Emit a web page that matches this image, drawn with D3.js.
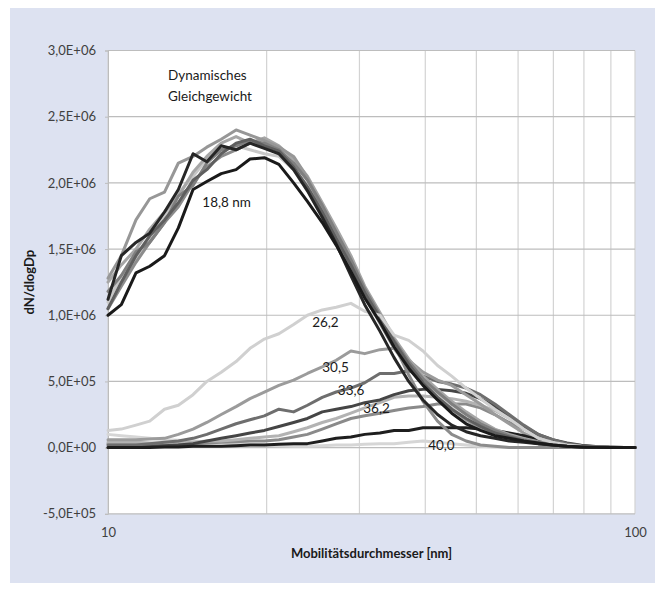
<!DOCTYPE html>
<html><head><meta charset="utf-8">
<script src="https://cdn.jsdelivr.net/npm/d3@7"></script>
<style>
body{margin:0;background:#fff;}
text{font-family:Lato,"Open Sans",sans-serif;}
</style>
</head><body>
<svg id="chart" width="660" height="597"></svg>
<script>
// ---- DATA ----
const diameters = [10.0, 10.6, 11.3, 12.0, 12.8, 13.6, 14.5, 15.4, 16.4, 17.5, 18.6, 19.8, 21.1, 22.5, 23.9, 25.5, 27.1, 28.9, 30.7, 32.8, 34.9, 37.2, 39.6, 42.2, 44.9, 47.8, 50.9, 54.2, 57.7, 61.5, 65.5, 69.8, 74.3, 79.1, 84.2, 89.8, 95.6, 100];
const UNIT = 1e6; // values below in millions (dN/dlogDp)

// "Dynamisches Gleichgewicht" group (18,8 nm)
const eqA = [1.28,1.45,1.72,1.88,1.93,2.15,2.20,2.27,2.33,2.40,2.36,2.32,2.27,2.20,2.04,1.80,1.60,1.38,1.15,0.94,0.75,0.60,0.48,0.38,0.29,0.21,0.15,0.10,0.07,0.05,0.03,0.02,0.01,0.005,0.002,0,0,0];
const eqB = [1.00,1.08,1.32,1.37,1.45,1.66,1.95,2.01,2.07,2.10,2.18,2.19,2.14,2.00,1.86,1.70,1.53,1.33,1.13,0.95,0.76,0.60,0.47,0.36,0.26,0.18,0.13,0.09,0.07,0.05,0.035,0.02,0.01,0.005,0.002,0,0,0];
const eqC = [1.12,1.45,1.55,1.62,1.78,1.95,2.22,2.16,2.28,2.25,2.30,2.26,2.22,2.10,1.94,1.74,1.54,1.30,1.08,0.88,0.68,0.50,0.36,0.25,0.17,0.12,0.09,0.07,0.05,0.04,0.03,0.02,0.01,0.005,0.002,0,0,0];
const eqD = [1.05,1.25,1.45,1.60,1.72,1.85,2.02,2.10,2.22,2.30,2.33,2.28,2.24,2.12,1.97,1.78,1.58,1.38,1.17,0.98,0.80,0.63,0.49,0.38,0.29,0.22,0.16,0.11,0.08,0.05,0.03,0.02,0.01,0.005,0,0,0,0];
const eqE = [1.18,1.30,1.48,1.55,1.70,1.90,1.98,2.15,2.25,2.28,2.32,2.30,2.25,2.15,2.02,1.83,1.63,1.42,1.20,1.00,0.81,0.65,0.52,0.42,0.33,0.25,0.18,0.13,0.09,0.06,0.04,0.025,0.015,0.008,0.003,0,0,0];
const eqF = [1.25,1.38,1.50,1.65,1.78,1.90,2.08,2.20,2.30,2.35,2.30,2.34,2.28,2.18,2.05,1.85,1.66,1.45,1.22,1.02,0.83,0.67,0.54,0.44,0.35,0.27,0.20,0.14,0.10,0.07,0.045,0.03,0.015,0.008,0.003,0,0,0];
const eqG = [1.10,1.30,1.42,1.58,1.75,1.92,2.05,2.18,2.25,2.28,2.25,2.22,2.20,2.10,1.98,1.78,1.58,1.38,1.15,0.95,0.78,0.62,0.50,0.40,0.30,0.22,0.15,0.10,0.07,0.05,0.03,0.02,0.01,0.005,0,0,0,0];
const eqH = [1.05,1.22,1.40,1.55,1.70,1.82,2.00,2.12,2.20,2.25,2.30,2.28,2.25,2.12,1.95,1.75,1.55,1.35,1.18,0.98,0.78,0.55,0.35,0.20,0.10,0.05,0.02,0.01,0,0,0,0,0,0,0,0,0,0];

// lower group
const d262 = [0.13,0.14,0.17,0.20,0.29,0.32,0.40,0.50,0.57,0.65,0.75,0.82,0.86,0.93,1.00,1.04,1.06,1.09,1.03,1.00,0.85,0.81,0.73,0.62,0.54,0.45,0.37,0.29,0.22,0.14,0.07,0.04,0.02,0.01,0.005,0,0,0];
const d305 = [0.06,0.06,0.06,0.065,0.07,0.10,0.14,0.19,0.25,0.31,0.37,0.42,0.47,0.51,0.56,0.61,0.66,0.73,0.71,0.74,0.75,0.66,0.57,0.51,0.47,0.40,0.33,0.25,0.18,0.11,0.06,0.03,0.015,0.008,0.003,0,0,0];
const d336 = [0.02,0.02,0.02,0.03,0.04,0.05,0.07,0.10,0.14,0.18,0.21,0.24,0.29,0.27,0.32,0.38,0.42,0.45,0.49,0.56,0.56,0.58,0.54,0.50,0.48,0.45,0.40,0.33,0.25,0.17,0.10,0.06,0.03,0.015,0.006,0.002,0,0];
const dDark = [0,0,0.01,0.01,0.015,0.02,0.03,0.05,0.07,0.09,0.11,0.13,0.16,0.19,0.22,0.27,0.29,0.31,0.34,0.36,0.40,0.43,0.44,0.44,0.43,0.41,0.37,0.31,0.23,0.16,0.10,0.06,0.035,0.018,0.008,0.003,0,0];
const d362 = [0.04,0.04,0.04,0.035,0.035,0.04,0.04,0.05,0.05,0.06,0.07,0.08,0.09,0.12,0.15,0.19,0.22,0.26,0.30,0.34,0.38,0.39,0.39,0.38,0.37,0.35,0.32,0.28,0.22,0.15,0.09,0.05,0.025,0.012,0.005,0.002,0,0];
const dMid = [0.03,0.03,0.03,0.03,0.03,0.03,0.03,0.035,0.04,0.045,0.05,0.05,0.06,0.08,0.10,0.14,0.18,0.22,0.24,0.26,0.28,0.30,0.31,0.33,0.33,0.33,0.30,0.25,0.19,0.14,0.09,0.05,0.025,0.012,0.005,0.002,0,0];
const d400 = [0,0,0,0,0.005,0.005,0.01,0.01,0.01,0.015,0.02,0.02,0.025,0.03,0.03,0.05,0.07,0.08,0.10,0.11,0.13,0.13,0.15,0.15,0.15,0.15,0.14,0.13,0.11,0.09,0.06,0.04,0.015,0.005,0,0,0,0];
const d400b = [0.10,0.09,0.08,0.07,0.06,0.055,0.05,0.045,0.04,0.03,0.025,0.02,0.015,0.01,0.01,0.015,0.02,0.02,0.025,0.03,0.03,0.04,0.05,0.04,0.03,0.02,0.01,0.005,0,0,0,0,0,0,0,0,0,0];

const yTicks = [-5e5, 0, 5e5, 1e6, 1.5e6, 2e6, 2.5e6, 3e6];
const xTickLabels = [10, 100];
const xGrid = [10, 20, 30, 40, 50, 60, 70, 80, 90, 100];

const labels = [
  {text: "18,8 nm", d: 15.1, v: 1.856e6},
  {text: "26,2", d: 24.4, v: 0.95e6},
  {text: "30,5", d: 25.5, v: 0.61e6},
  {text: "33,6", d: 27.3, v: 0.43e6},
  {text: "36,2", d: 30.5, v: 0.30e6},
  {text: "40,0", d: 40.5, v: 0.02e6}
];
const note = [
  {text: "Dynamisches", d: 13.0, v: 2.815e6},
  {text: "Gleichgewicht", d: 13.0, v: 2.656e6}
];

// drawing order & styles
const seriesList = [
  {vals: d400b, color: "#d6d6d6"},
  {vals: dMid,  color: "#8a8a8a"},
  {vals: d362,  color: "#b3b3b3"},
  {vals: dDark, color: "#454545"},
  {vals: d336,  color: "#6e6e6e"},
  {vals: d305,  color: "#9b9b9b"},
  {vals: d400,  color: "#1e1e1e"},
  {vals: eqG,   color: "#c8c8c8"},
  {vals: eqF,   color: "#a6a6a6"},
  {vals: eqA,   color: "#979797"},
  {vals: eqH,   color: "#8c8c8c"},
  {vals: eqE,   color: "#7f7f7f"},
  {vals: eqD,   color: "#5f5f5f"},
  {vals: d262,  color: "#d0d0d0"},
  {vals: eqC,   color: "#262626"},
  {vals: eqB,   color: "#1a1a1a"}
];

// ---- CHART ----
const plot = {left: 108, right: 635, top: 50.5, bottom: 513.8};
const svg = d3.select("#chart");

svg.append("rect").attr("x", 10).attr("y", 8).attr("width", 645).attr("height", 575).attr("fill", "#dde2f1");
svg.append("rect").attr("x", plot.left).attr("y", plot.top)
  .attr("width", plot.right - plot.left).attr("height", plot.bottom - plot.top).attr("fill", "#fff");

const x = d3.scaleLog().domain([10, 100]).range([plot.left, plot.right]);
const y = d3.scaleLinear().domain([-5e5, 3e6]).range([plot.bottom, plot.top]);

// grid
svg.append("g").selectAll("line").data(xGrid).join("line")
  .attr("x1", d => x(d)).attr("x2", d => x(d)).attr("y1", plot.top).attr("y2", plot.bottom)
  .attr("stroke", "#d3d3d3").attr("stroke-width", 1.2);
svg.append("g").selectAll("line").data(yTicks).join("line")
  .attr("x1", plot.left).attr("x2", plot.right).attr("y1", d => y(d)).attr("y2", d => y(d))
  .attr("stroke", "#bdbdbd").attr("stroke-width", 1.2);

// y axis
function fmt(v) {
  if (v === 0) return "0,0E+00";
  const e = Math.floor(Math.log10(Math.abs(v)) + 1e-9);
  const m = v / Math.pow(10, e);
  return m.toFixed(1).replace(".", ",") + "E" + (e < 0 ? "-" : "+") + String(Math.abs(e)).padStart(2, "0");
}
const yAxis = svg.append("g").attr("transform", `translate(${plot.left},0)`)
  .call(d3.axisLeft(y).tickValues(yTicks).tickFormat(fmt).tickSize(3).tickPadding(9));
yAxis.select(".domain").attr("stroke", "#bdbdbd");
yAxis.selectAll(".tick line").attr("stroke", "#bdbdbd");
yAxis.selectAll("text").attr("font-size", 13).attr("fill", "#404040").style("font-family", "Lato");

const xAxis = svg.append("g").attr("transform", `translate(0,${plot.bottom})`)
  .call(d3.axisBottom(x).tickValues(xTickLabels).tickFormat(d3.format("d")).tickSize(0).tickPadding(14));
xAxis.select(".domain").remove();
xAxis.selectAll("text").attr("font-size", 13).attr("fill", "#404040").style("font-family", "Lato");

// titles
svg.append("text").attr("x", (plot.left + plot.right) / 2).attr("y", 558)
  .attr("text-anchor", "middle").attr("font-size", 13).attr("font-weight", "bold").attr("fill", "#1a1a1a")
  .text("Mobilitätsdurchmesser [nm]");
svg.append("text").attr("transform", `translate(34,${(plot.top + plot.bottom) / 2}) rotate(-90)`)
  .attr("text-anchor", "middle").attr("font-size", 13).attr("font-weight", "bold").attr("fill", "#1a1a1a")
  .text("dN/dlogDp");

// lines
const line = d3.line().x(d => x(d[0])).y(d => y(d[1])).curve(d3.curveLinear);
svg.append("g").selectAll("path").data(seriesList).join("path")
  .attr("d", s => line(diameters.map((dd, i) => [dd, s.vals[i] * UNIT])))
  .attr("fill", "none").attr("stroke", s => s.color).attr("stroke-width", 3)
  .attr("stroke-linejoin", "round").attr("stroke-linecap", "round");

// labels
svg.append("g").selectAll("text").data(labels).join("text")
  .attr("x", d => x(d.d)).attr("y", d => y(d.v)).attr("dy", "0.35em")
  .attr("font-size", 13.5).attr("fill", "#1a1a1a").text(d => d.text);
svg.append("g").selectAll("text").data(note).join("text")
  .attr("x", d => x(d.d)).attr("y", d => y(d.v)).attr("dy", "0.35em")
  .attr("font-size", 13.5).attr("fill", "#1a1a1a").text(d => d.text);
</script>
</body></html>
